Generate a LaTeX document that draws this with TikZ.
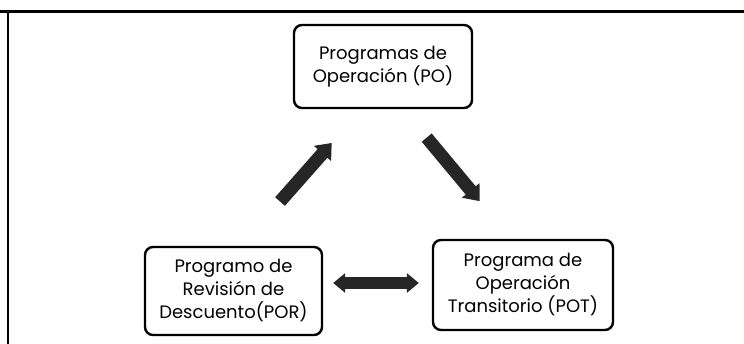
\documentclass[tikz,border=0pt]{standalone}
\usepackage{fontspec}
\setmainfont{Poppins}
\usetikzlibrary{arrows.meta}

\begin{document}
\begin{tikzpicture}[x=1pt,y=-1pt,
    prog/.style={draw=black,line width=2.4pt,rounded corners=8pt,align=center,font=\fontsize{18}{23}\selectfont,inner sep=0pt},
    flecha/.style={draw=black!85,line width=13pt,-{Triangle[length=14pt,width=22pt]}},
    doble/.style={draw=black!85,line width=12pt,{Triangle[length=12pt,width=19pt]}-{Triangle[length=12pt,width=19pt]}}]
                \useasboundingbox (0,0) rectangle (744,344);
                % marco
                \draw[line width=3pt] (0,12) -- (744,12);
                \draw[line width=1.5pt] (8,12) -- (8,344);

                \node[prog,minimum width=178pt,minimum height=83pt] (po) at (383,66.5) {Programas de\\Operación (PO)};
                \node[prog,minimum width=177pt,minimum height=88pt] (por) at (233.5,291) {Programo de\\Revisión de\\Descuento(POR)};
                \node[prog,minimum width=180pt,minimum height=90pt] (pot) at (523,285) {Programa de\\Operación\\Transitorio (POT)};

                \draw [flecha,shorten <=59pt,shorten >=45pt] ([xshift=7.5pt]por.north) -- ([xshift=-21.5pt]po.south);
                \draw [flecha,shorten <=37pt,shorten >=49pt] ([xshift=20pt]po.south) -- ([xshift=-12pt]pot.north);
                \draw [doble,shorten <=10pt,shorten >=13pt] ([yshift=8pt]por.east) -- ([yshift=2pt]pot.west);
            \end{tikzpicture}
\end{document}
